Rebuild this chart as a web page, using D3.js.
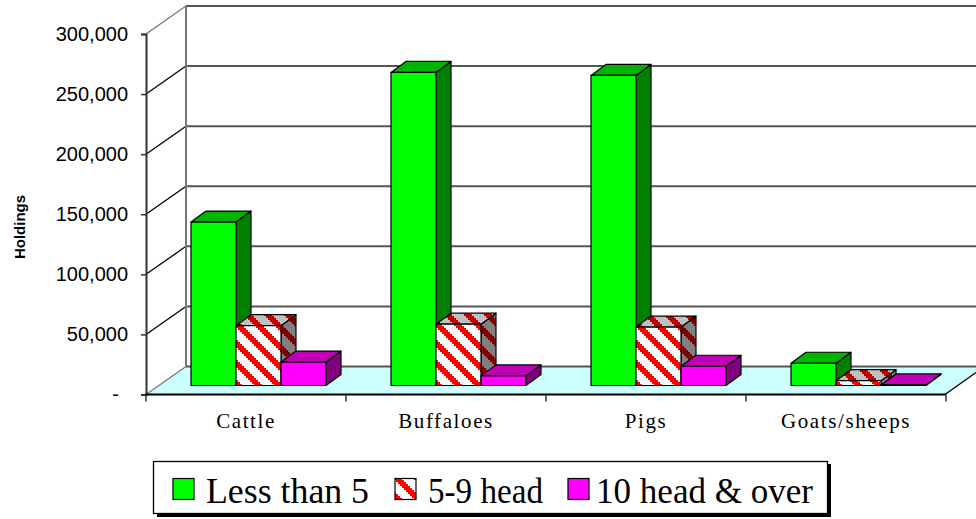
<!DOCTYPE html>
<meta charset="utf-8">
<style>
html, body { margin: 0; background: #fff; }
svg { display: block; }
.cat text { font: 21px "Liberation Serif", serif; letter-spacing: 1.6px; fill: #000; }
.val text { font: 20px "Liberation Sans", sans-serif; fill: #000; }
</style>
<svg width="976" height="519"></svg>
<script src="https://d3js.org/d3.v7.min.js"></script>
<script>
// values
var categories = ["Cattle", "Buffaloes", "Pigs", "Goats/sheeps"];
var seriesNames = ["Less than 5", "5-9 head", "10 head & over"];
var lessThan5 = [136000, 260500, 258000, 18500];
var head5to9 = [49800, 51000, 48600, 4000];
var head10over = [19500, 8000, 16000, 500];
var yTicks = [0, 50000, 100000, 150000, 200000, 250000, 300000];

var svg = d3.select("svg");
var seriesValues = [lessThan5, head5to9, head10over];

var x0 = d3.scaleBand().domain(categories).range([146, 946]);
var x1 = d3.scaleBand().domain(seriesNames).range([45, 180]);
var y = d3.scaleLinear().domain([0, 300000]).range([394.5, 34]);

// 3d offsets
var wallDx = 40, wallDy = -28;
var barDx = 15, barDy = -11;
var barLift = 9;

// face colours for each series: front, top, side
var faces = [
  ["#00ff00", "#00b400", "#008000"],
  ["url(#hatchFront)", "url(#hatchTop)", "url(#hatchSide)"],
  ["#ff00ff", "#c000b4", "#800080"]
];

// hatch tiles, stepped diagonal band repeated every 20px
var defs = svg.append("defs");
function hatch(id, bg, fg, shift) {
  var p = defs.append("pattern").attr("id", id)
      .attr("patternUnits", "userSpaceOnUse")
      .attr("width", 20).attr("height", 20);
  p.append("rect").attr("width", 20).attr("height", 20).attr("fill", bg);
  d3.range(0, 10).forEach(function(r) {
    var bx = (2 * r + 10 + shift) % 20;
    [bx, bx - 20].forEach(function(px) {
      p.append("rect").attr("x", px).attr("y", 2 * r).attr("width", 8).attr("height", 2)
          .attr("fill", fg).attr("shape-rendering", "crispEdges");
    });
  });
}
hatch("hatchFront", "#ffffff", "#ff0000", 0);
hatch("hatchTop", "#c0c0c0", "#c00000", 0);
hatch("hatchSide", "#808080", "#800000", 0);
hatch("hatchLegend", "#ffffff", "#ff0000", 6);

// floor
var xStart = 146, xEnd = 945, yBase = y(0);
svg.append("path")
    .attr("d", d3.line()([[xStart, yBase], [xStart + wallDx, yBase + wallDy], [976, yBase + wallDy], [xEnd + 31, yBase - 22], [xEnd, yBase]]))
    .attr("fill", "#ccffff");

// back wall grid
svg.append("g").selectAll("line").data(yTicks).enter().append("line")
    .attr("x1", xStart + wallDx).attr("x2", 976)
    .attr("y1", function(d) { return y(d) + wallDy; })
    .attr("y2", function(d) { return y(d) + wallDy; })
    .attr("stroke", "#555").attr("stroke-width", 2);

// side wall diagonals
svg.append("g").selectAll("line").data(yTicks).enter().append("line")
    .attr("x1", xStart).attr("x2", xStart + wallDx)
    .attr("y1", function(d) { return y(d); })
    .attr("y2", function(d) { return y(d) + wallDy; })
    .attr("stroke", function(d) { return d === 0 || d === 300000 ? "#777" : "#000"; })
    .attr("stroke-width", 1.3);

svg.append("line")
    .attr("x1", xStart + wallDx).attr("x2", xStart + wallDx)
    .attr("y1", y(300000) + wallDy).attr("y2", yBase + wallDy)
    .attr("stroke", "#777").attr("stroke-width", 2);

// right end of the floor
svg.append("line")
    .attr("x1", xEnd).attr("y1", yBase).attr("x2", xEnd + 31).attr("y2", yBase - 22)
    .attr("stroke", "#000").attr("stroke-width", 1.3);

// bars, left to right so the next front face covers the side before it
var barW = x1.bandwidth();
var floorY = yBase - barLift;
function barTop(v) { return y(v) - barLift; }
var poly = d3.line();

categories.forEach(function(cat, i) {
  seriesNames.forEach(function(name, s) {
    var v = seriesValues[s][i];
    var l = x0(cat) + x1(name), r = l + barW, t = barTop(v);
    var g = svg.append("g").attr("stroke", "#000").attr("stroke-width", 1.2).attr("stroke-linejoin", "round");
    g.append("path")
        .attr("d", poly([[r, t], [r + barDx, t + barDy], [r + barDx, floorY + barDy], [r, floorY]]) + "Z")
        .attr("fill", faces[s][2]);
    g.append("path")
        .attr("d", poly([[l, t], [l + barDx, t + barDy], [r + barDx, t + barDy], [r, t]]) + "Z")
        .attr("fill", faces[s][1]);
    g.append("rect")
        .attr("x", l).attr("y", t).attr("width", barW).attr("height", floorY - t)
        .attr("fill", faces[s][0]);
  });
});

// value axis
var yAxis = d3.axisLeft(y).tickValues(yTicks).tickSize(5).tickPadding(13)
    .tickFormat(function(d) { return d === 0 ? "-" : d3.format(",")(d); });
var gy = svg.append("g").attr("class", "val").attr("transform", "translate(146,0)").call(yAxis);
gy.select(".domain").attr("stroke", "#333").attr("stroke-width", 2);
gy.selectAll(".tick line").attr("stroke", "#333").attr("stroke-width", 1.5);
// the zero dash sits further left in the original
gy.selectAll(".tick text").filter(function(d) { return d === 0; }).attr("x", -27);

// category axis
var xAxis = d3.axisBottom(x0).tickSize(0).tickPadding(19);
var gx = svg.append("g").attr("class", "cat").attr("transform", "translate(0," + yBase + ")").call(xAxis);
gx.select(".domain").remove();
svg.append("line").attr("x1", 145).attr("x2", xEnd + 1).attr("y1", yBase).attr("y2", yBase)
    .attr("stroke", "#000").attr("stroke-width", 2);
svg.append("g").selectAll("line").data(d3.range(0, categories.length + 1)).enter().append("line")
    .attr("x1", function(d) { return xStart + d * x0.step(); })
    .attr("x2", function(d) { return xStart + d * x0.step(); })
    .attr("y1", yBase).attr("y2", yBase + 7)
    .attr("stroke", "#333").attr("stroke-width", 1.5);

svg.append("text")
    .attr("transform", "translate(25,227) rotate(-90)")
    .attr("text-anchor", "middle")
    .style("font", "bold 15px 'Liberation Sans', sans-serif")
    .text("Holdings");

// legend
var legend = svg.append("g");
legend.append("rect").attr("x", 157).attr("y", 464).attr("width", 674).attr("height", 53).attr("fill", "#000");
legend.append("rect").attr("x", 153.5).attr("y", 461.5).attr("width", 674).attr("height", 52)
    .attr("fill", "#fff").attr("stroke", "#000").attr("stroke-width", 1.3);
var legendX = [173, 395, 568];
var legendTextX = [206, 428, 596];
var legendTextW = [163, 115, 217];
var legendFill = ["#00ff00", "url(#hatchLegend)", "#ff00ff"];
seriesNames.forEach(function(name, i) {
  legend.append("rect").attr("x", legendX[i]).attr("y", 478.5).attr("width", 21).attr("height", 21)
      .attr("fill", legendFill[i]).attr("stroke", "#000").attr("stroke-width", 1.2);
  legend.append("text").attr("x", legendTextX[i]).attr("y", 503)
      .attr("textLength", legendTextW[i]).attr("lengthAdjust", "spacingAndGlyphs")
      .style("font", "36px 'Liberation Serif', serif")
      .text(name);
});
</script>
